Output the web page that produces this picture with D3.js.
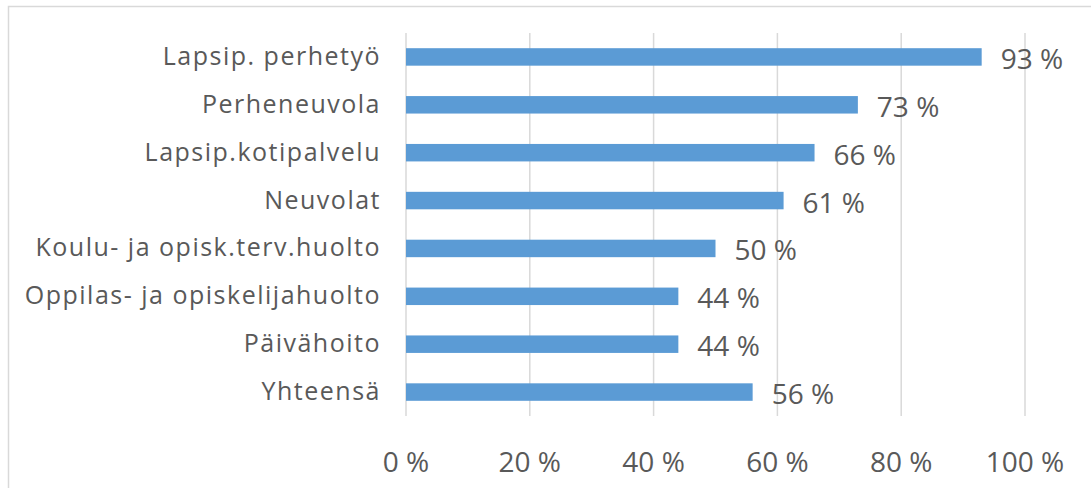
<!DOCTYPE html>
<html><head><meta charset="utf-8">
<script src="https://cdn.jsdelivr.net/npm/d3@7"></script>
<style>body{margin:0;background:#fff}svg{display:block}text{font-family:"Open Sans","Noto Sans",sans-serif;fill:#595959}</style>
</head><body><svg id="c" width="1091" height="488"></svg>
<script>
const categories = ["Lapsip. perhetyö","Perheneuvola","Lapsip.kotipalvelu","Neuvolat","Koulu- ja opisk.terv.huolto","Oppilas- ja opiskelijahuolto","Päivähoito","Yhteensä"];
const values = [93,73,66,61,50,44,44,56];
const ticks = [0,20,40,60,80,100];

const svg = d3.select("#c");
svg.append("rect").attr("x",8.5).attr("y",6.5).attr("width",1100).attr("height",500)
  .attr("fill","none").attr("stroke","#d9d9d9").attr("stroke-width",1.5);

const x = d3.scaleLinear().domain([0,100]).range([406,1025]);
const y = d3.scaleBand().domain(categories).range([33,416]).paddingInner(0.635).paddingOuter(0.3175);

svg.append("g").selectAll("line").data(ticks).join("line")
  .attr("x1",d=>x(d)).attr("x2",d=>x(d)).attr("y1",33).attr("y2",416)
  .attr("stroke","#d9d9d9").attr("stroke-width",1.5);

svg.append("g").selectAll("rect").data(values).join("rect")
  .attr("x",x(0)).attr("y",(d,i)=>y(categories[i])).attr("width",d=>x(d)-x(0))
  .attr("height",y.bandwidth()).attr("fill","#5b9bd5");

svg.append("g").selectAll("text").data(values).join("text")
  .attr("x",d=>x(d)+19).attr("y",(d,i)=>y(categories[i])+y.bandwidth()/2+12)
  .attr("font-size",28).text(d=>d+" %");

svg.append("g").selectAll("text").data(categories).join("text")
  .attr("x",381).attr("y",d=>y(d)+y.bandwidth()/2+8).attr("text-anchor","end")
  .attr("font-size",25).attr("letter-spacing",1.5).text(d=>d);

svg.append("g").selectAll("text").data(ticks).join("text")
  .attr("x",d=>x(d)).attr("y",472).attr("text-anchor","middle")
  .attr("font-size",28).text(d=>d+" %");
</script></body></html>
